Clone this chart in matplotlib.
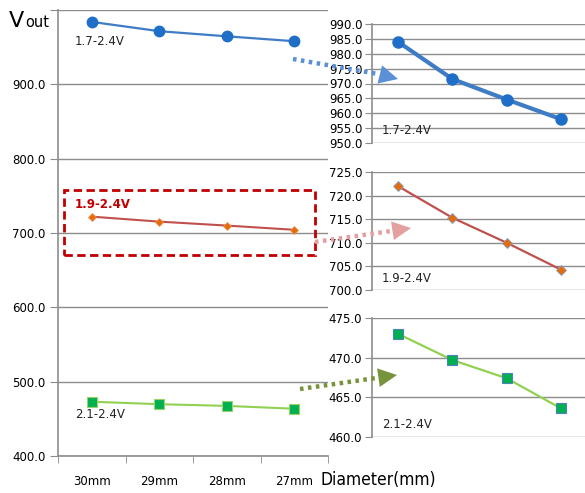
import matplotlib
matplotlib.use("Agg")
import matplotlib.pyplot as plt
from matplotlib.lines import Line2D
from matplotlib.patches import Rectangle, FancyArrowPatch

# diameters and output voltage for the three supply ranges
diameters = ["30mm", "29mm", "28mm", "27mm"]
vout_17 = [984.0, 971.5, 964.6, 958.0]
vout_19 = [722.0, 715.3, 710.0, 704.3]
vout_21 = [473.0, 469.7, 467.4, 463.6]
labels = ["1.7-2.4V", "1.9-2.4V", "2.1-2.4V"]

W, H = 585, 493
plt.rcParams["font.family"] = "DejaVu Sans"
fig = plt.figure(figsize=(W / 100, H / 100), dpi=100)
fig.patch.set_facecolor("white")

GRID = "#8c8c8c"
BLUE_L, BLUE_M = "#3f7cc6", "#1f6fc8"
RED_L, ORANGE_M = "#c0504d", "#e46c0a"
GREEN_L, GREEN_M = "#92d050", "#00b050"


def px_axes(x0, y0, x1, y1):
    # axes from pixel box (top-left origin)
    return fig.add_axes([x0 / W, 1 - y1 / H, (x1 - x0) / W, (y1 - y0) / H])


def fig_pt(x, y):
    return (x / W, 1 - y / H)


xs = list(range(len(diameters)))

# ---- main chart ----
ax = px_axes(58, 10, 328, 456)
ax.set_xlim(-0.5, 3.5)
ax.set_ylim(400, 1000)
ax.set_yticks([400, 500, 600, 700, 800, 900, 1000])
ax.set_yticklabels(["400.0", "500.0", "600.0", "700.0", "800.0", "900.0", ""])
ax.yaxis.grid(True, color=GRID, lw=1)
ax.set_axisbelow(True)
for s in ["top", "right"]:
    ax.spines[s].set_visible(False)
for s in ["left", "bottom"]:
    ax.spines[s].set_color(GRID)
    ax.spines[s].set_linewidth(1.2)
ax.tick_params(axis="y", length=6, color=GRID, labelsize=8.5, pad=3)
ax.set_xticks(xs)
ax.set_xticklabels(diameters)
ax.set_xticks([-0.5, 0.5, 1.5, 2.5, 3.5], minor=True)
ax.tick_params(axis="x", which="major", length=0, labelsize=8.5, pad=14)
ax.tick_params(axis="x", which="minor", length=5, color=GRID)

ax.plot(xs, vout_17, color=BLUE_L, lw=1.6, marker="o", ms=7.5,
        mfc=BLUE_M, mec=BLUE_M)
ax.plot(xs, vout_19, color=RED_L, lw=1.5, marker="D", ms=4.5,
        mfc=ORANGE_M, mec="#f09050", mew=0.6)
ax.plot(xs, vout_21, color=GREEN_L, lw=1.5, marker="s", ms=6.5,
        mfc=GREEN_M, mec="#9bd36a", mew=0.8)

ax.text(-0.25, 958, labels[0], fontsize=8.5, color="#222222", va="center")
ax.text(-0.25, 738, labels[1], fontsize=8.5, color="#c00000",
        fontweight="bold", va="center")
ax.text(-0.25, 456, labels[2], fontsize=8.5, color="#222222", va="center")

ax.add_patch(Rectangle((-0.41, 671), 3.72, 87, fill=False, ec="#c00000",
                       lw=2, ls=(0, (3, 1.6)), clip_on=False, zorder=5))

fig.text(9 / W, 1 - 27 / H, "V", fontsize=16, va="baseline", ha="left")
fig.text(25 / W, 1 - 27 / H, "out", fontsize=10.5, va="baseline", ha="left")
fig.text(320 / W, 1 - 480 / H, "Diameter(mm)", fontsize=12.5, va="center",
         ha="left", stretch="condensed")


# ---- zoomed insets ----
def inset(y0, y1, lo, hi, step, vals, lab, lab_y, **style):
    a = px_axes(372, y0, 585, y1)
    a.set_xlim(-0.48, 3.44)
    a.set_ylim(lo, hi)
    ticks = [lo + i * step for i in range(int(round((hi - lo) / step)) + 1)]
    a.set_yticks(ticks)
    a.set_yticklabels([f"{t:.1f}" for t in ticks])
    a.yaxis.grid(True, color=GRID, lw=1)
    a.set_axisbelow(True)
    for s in ["top", "right", "bottom"]:
        a.spines[s].set_visible(False)
    a.spines["left"].set_color(GRID)
    a.spines["left"].set_linewidth(1.2)
    a.tick_params(axis="y", length=5, color=GRID, labelsize=8.5, pad=2)
    a.set_xticks([])
    a.plot(xs, vals, **style)
    a.text(-0.3, lab_y, lab, fontsize=8.5, color="#222222", va="center")
    return a


inset(24, 143, 950, 990, 5, vout_17, labels[0], 954.3, color=BLUE_L, lw=3,
      marker="o", ms=8, mfc=BLUE_M, mec=BLUE_M)
inset(172, 290, 700, 725, 5, vout_19, labels[1], 702.5, color=RED_L, lw=1.6,
      marker="D", ms=5, mfc=ORANGE_M, mec="#7f9fc8", mew=0.6)
inset(318, 437, 460, 475, 5, vout_21, labels[2], 461.6, color=GREEN_L, lw=1.6,
      marker="s", ms=7, mfc=GREEN_M, mec="#4f81bd", mew=0.8)


# ---- dotted pointer arrows ----
def pointer(p0, p1, tip, color):
    fig.add_artist(Line2D([fig_pt(*p0)[0], fig_pt(*p1)[0]],
                          [fig_pt(*p0)[1], fig_pt(*p1)[1]],
                          transform=fig.transFigure, color=color, lw=3.2,
                          ls=(0, (0.8, 1.0))))
    fig.add_artist(FancyArrowPatch(fig_pt(*p1), fig_pt(*tip),
                                   transform=fig.transFigure,
                                   arrowstyle="-|>,head_length=1.5,head_width=0.75",
                                   mutation_scale=9, color=color, lw=0,
                                   shrinkA=0, shrinkB=0))


pointer((293, 59), (378, 74), (398, 79), "#5b8fd6")
pointer((315, 242), (391, 231), (411, 228), "#e4a0a0")
pointer((300, 389), (376, 378), (397, 375), "#77933c")

fig.savefig("out.png", dpi=100, facecolor="white")
